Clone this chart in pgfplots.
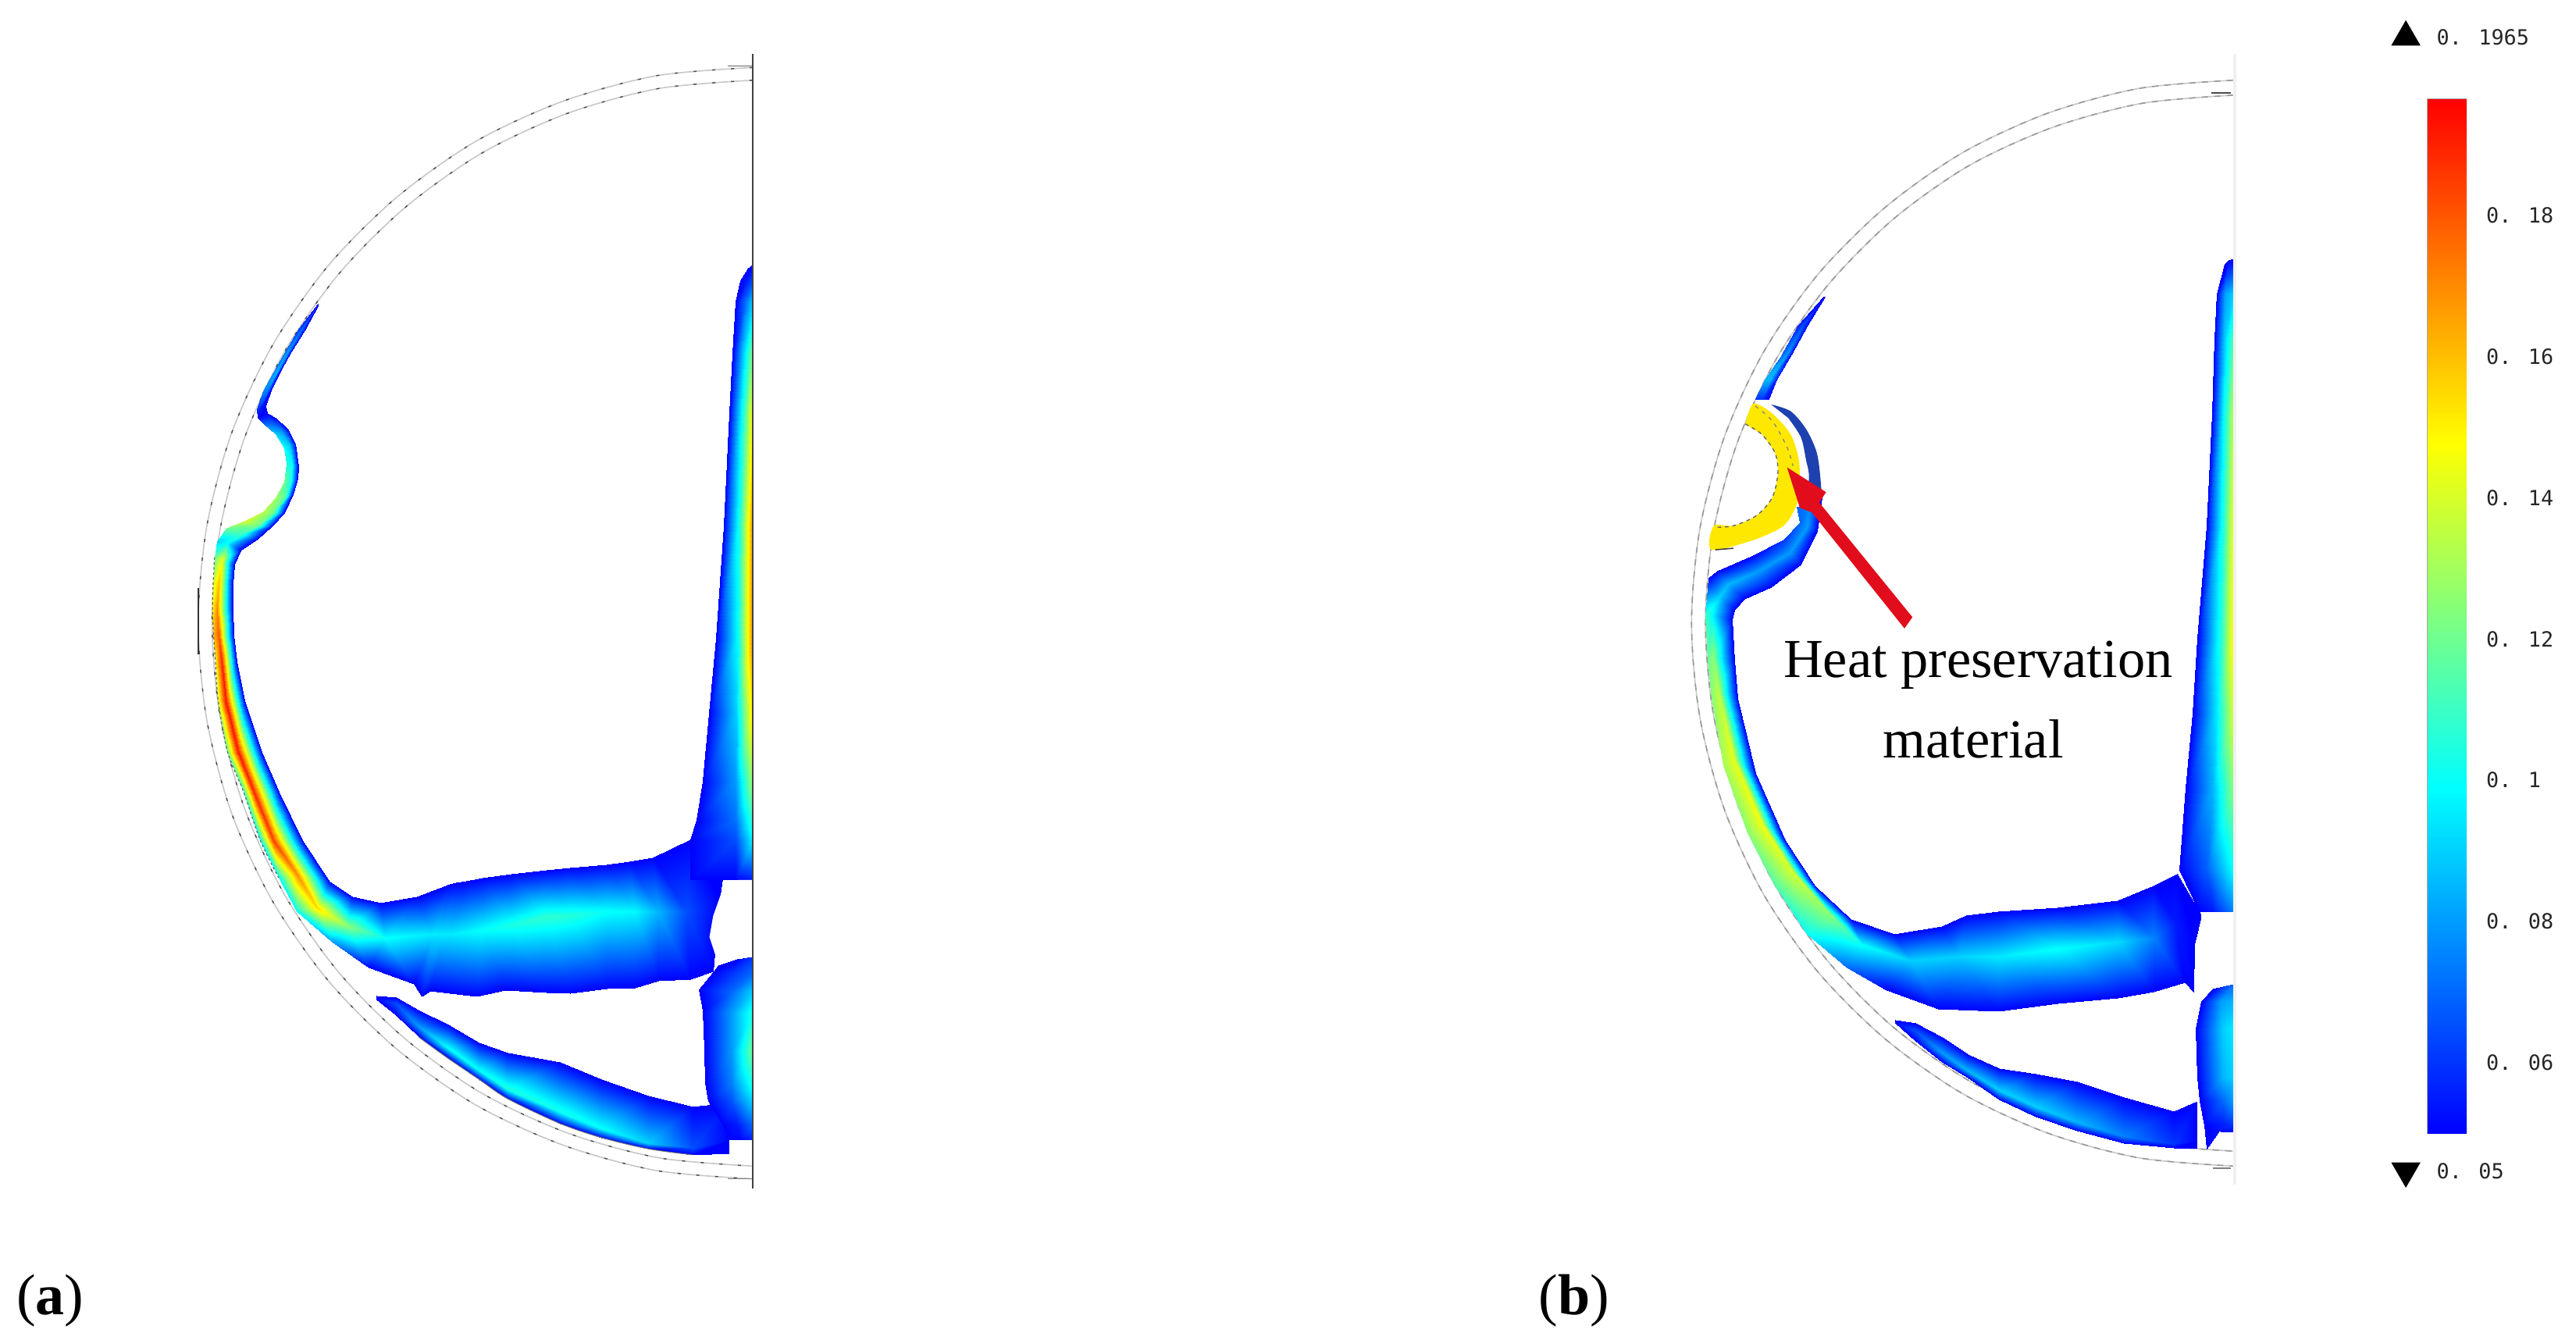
\documentclass[border=0pt]{standalone}
\usepackage{fontspec}
\setmainfont{Liberation Serif}
\newfontfamily\cbfont{DejaVu Sans Mono}
\usepackage{pgfplots}
\pgfplotsset{compat=1.18}
\definecolor{yel}{RGB}{255,232,0}
\definecolor{arrowred}{RGB}{225,12,28}
\definecolor{navy}{RGB}{30,65,175}
\pgfplotsset{
 panel/.style={scale only axis,hide axis,xmin=0,xmax=1560,ymin=0,ymax=1560,y dir=reverse,clip=false,
  anchor=north west,point meta min=0.05,point meta max=0.1965,
  colormap={heat}{rgb255=(0,0,255) rgb255=(0,255,255) rgb255=(255,255,0) rgb255=(255,0,0)}},
 heat/.style={surf,shader=interp,mesh/cols=3,point meta=explicit},
 ringa/.style={draw=black!22,line width=0.4pt,smooth,no markers},
 ringb/.style={draw=black!70,line width=0.35pt,smooth,dash pattern=on 1pt off 5pt,no markers},
 ringc/.style={draw=black!40,line width=0.4pt,smooth,dash pattern=on 2pt off 2pt,no markers},
}
\begin{document}
\begin{tikzpicture}
\path[use as bounding box] (0,0) rectangle (824.75pt,428.75pt);
% ---------------- panel (a)
\begin{axis}[panel,width=203.8pt,height=374pt,at={(50pt,416.25pt)}]
\addplot[ringa] coordinates {(1462,38)(1226,49)(997,83)(782,137)(588,212)(421,303)(285,409)(185,526)(124,651)(103,780)(124,909)(185,1034)(285,1151)(421,1257)(588,1348)(782,1423)(997,1477)(1226,1511)(1462,1522)};
\addplot[ringb] coordinates {(1462,38)(1226,49)(997,83)(782,137)(588,212)(421,303)(285,409)(185,526)(124,651)(103,780)(124,909)(185,1034)(285,1151)(421,1257)(588,1348)(782,1423)(997,1477)(1226,1511)(1462,1522)};
\addplot[ringa] coordinates {(1462,55)(1232,66)(1009,99)(799,152)(610,225)(447,314)(315,417)(217,532)(157,654)(137,780)(157,906)(217,1028)(315,1143)(447,1246)(610,1335)(799,1408)(1009,1461)(1232,1494)(1462,1505)};
\addplot[ringb] coordinates {(1462,55)(1232,66)(1009,99)(799,152)(610,225)(447,314)(315,417)(217,532)(157,654)(137,780)(157,906)(217,1028)(315,1143)(447,1246)(610,1335)(799,1408)(1009,1461)(1232,1494)(1462,1505)};
\addplot[black!80,line width=0.5pt,no markers] coordinates {(104,733)(104,822)};
\addplot[black!60,line width=0.45pt,no markers] coordinates {(1400,36)(1462,36)};
\addplot[black!50,line width=0.45pt,no markers] coordinates {(1400,1522)(1462,1522)};
% sliver
\addplot[heat] table[x=x,y=y,meta=c,row sep=\\] {
x y c\\
396 354 .05\\ 397 354 .05\\ 398 355 .05\\
351 386 .06\\ 357 387 .07\\ 364 389 .05\\
319 414 .07\\ 325 415 .08\\ 332 417 .05\\
287 445 .075\\ 296 443 .085\\ 306 441 .05\\
262 469 .075\\ 273 468 .075\\ 284 466 .05\\
246 494 .06\\ 257 492 .055\\ 268 490 .05\\
249 506 .05\\ 260 503 .05\\ 271 499 .05\\
};
% bump, wall, body
\addplot[heat] table[x=x,y=y,meta=c,row sep=\\] {
x y c\\
249 506 .05\\ 260 503 .05\\ 271 499 .05\\
265 514 .07\\ 279 510 .065\\ 293 506 .05\\
293 528 .09\\ 308 524 .08\\ 322 520 .05\\
313 546 .10\\ 327 543 .09\\ 341 540 .05\\
319 567 .105\\ 333 568 .10\\ 348 570 .05\\
313 591 .12\\ 330 590 .105\\ 346 587 .05\\
293 612 .13\\ 316 612 .115\\ 335 608 .05\\
262 631 .135\\ 288 633 .12\\ 313 633 .05\\
217 643 .14\\ 250 650 .12\\ 281 652 .05\\
172 653 .12\\ 210 661 .11\\ 249 667 .05\\
150 671 .09\\ 175 673 .10\\ 207 683 .05\\
143 692 .12\\ 160 695 .145\\ 191 702 .05\\
140 727 .14\\ 153 727 .16\\ 187 727 .05\\
137 761 .15\\ 150 761 .17\\ 187 761 .05\\
140 796 .16\\ 154 796 .18\\ 189 796 .05\\
145 831 .15\\ 160 831 .19\\ 198 831 .05\\
152 883 .14\\ 171 883 .193\\ 217 883 .05\\
175 952 .12\\ 201 952 .193\\ 258 952 .05\\
214 1005 .11\\ 239 1005 .19\\ 300 1005 .05\\
255 1070 .10\\ 287 1070 .185\\ 357 1070 .05\\
300 1120 .10\\ 345 1115 .17\\ 425 1125 .05\\
345 1165 .10\\ 395 1160 .155\\ 480 1145 .05\\
430 1205 .08\\ 470 1185 .125\\ 550 1153 .05\\
520 1240 .05\\ 560 1200 .10\\ 640 1145 .05\\
632 1262 .05\\ 680 1195 .095\\ 720 1128 .05\\
651 1278 .05\\ 700 1195 .095\\ 735 1126 .05\\
672 1271 .05\\ 725 1195 .095\\ 760 1124 .05\\
785 1278 .05\\ 800 1190 .10\\ 800 1120 .05\\
855 1270 .05\\ 870 1182 .104\\ 870 1115 .05\\
957 1273 .05\\ 957 1172 .108\\ 957 1109 .05\\
1014 1274 .05\\ 1014 1170 .106\\ 1014 1106 .05\\
1104 1268 .05\\ 1104 1165 .10\\ 1104 1102 .05\\
1174 1267 .05\\ 1174 1165 .098\\ 1160 1098 .05\\
1231 1258 .05\\ 1231 1165 .085\\ 1218 1093 .05\\
1308 1255 .05\\ 1300 1165 .065\\ 1308 1069 .05\\
1365 1245 .05\\ 1380 1150 .05\\ 1400 1069 .05\\
};
% vertical band
\addplot[heat] table[x=x,y=y,meta=c,row sep=\\] {
x y c\\
1450 306 .05\\ 1456 303 .05\\ 1462 300 .05\\
1432 322 .05\\ 1447 322 .055\\ 1462 322 .065\\
1420 350 .05\\ 1442 350 .07\\ 1462 350 .09\\
1412 420 .05\\ 1440 420 .09\\ 1462 420 .125\\
1405 500 .05\\ 1436 500 .10\\ 1462 500 .15\\
1392 650 .05\\ 1430 650 .105\\ 1462 650 .17\\
1372 800 .05\\ 1425 800 .10\\ 1462 800 .172\\
1355 900 .05\\ 1422 900 .09\\ 1462 900 .155\\
1340 991 .05\\ 1420 991 .08\\ 1462 991 .13\\
1324 1043 .05\\ 1420 1043 .072\\ 1462 1043 .11\\
1308 1069 .05\\ 1420 1069 .065\\ 1462 1069 .098\\
1308 1123 .05\\ 1420 1123 .05\\ 1462 1123 .055\\
};
% hole
\addplot[fill=white,draw=none,no markers] coordinates {(1462,1123)(1426,1123)(1384,1142)(1365,1171)(1356,1199)(1378,1236)(1423,1227)(1462,1225)} -- cycle;
% lower wedge
\addplot[heat] table[x=x,y=y,meta=c,row sep=\\] {
x y c\\
539 1277 .05\\ 539 1280 .05\\ 539 1283 .05\\
587 1279 .05\\ 587 1288 .065\\ 587 1303 .05\\
644 1297 .05\\ 644 1319 .08\\ 644 1333 .05\\
715 1316 .05\\ 715 1347 .10\\ 715 1361 .05\\
791 1340 .05\\ 791 1376 .10\\ 791 1389 .05\\
861 1353 .05\\ 861 1401 .105\\ 861 1415 .05\\
989 1366 .05\\ 989 1432 .103\\ 989 1448 .05\\
1091 1389 .05\\ 1091 1455 .10\\ 1091 1467 .05\\
1206 1411 .05\\ 1206 1474 .09\\ 1206 1482 .05\\
1314 1425 .05\\ 1314 1481 .065\\ 1314 1490 .05\\
1404 1420 .05\\ 1404 1470 .05\\ 1404 1488 .05\\
};
% lower block
\addplot[heat] table[x=x,y=y,meta=c,row sep=\\] {
x y c\\
1378 1237 .05\\ 1423 1228 .05\\ 1462 1225 .06\\
1365 1246 .05\\ 1415 1246 .06\\ 1462 1246 .07\\
1330 1269 .05\\ 1410 1272 .07\\ 1462 1272 .09\\
1340 1297 .05\\ 1410 1300 .08\\ 1462 1300 .105\\
1343 1349 .05\\ 1410 1350 .08\\ 1462 1350 .12\\
1346 1394 .05\\ 1410 1394 .075\\ 1462 1394 .105\\
1353 1418 .05\\ 1410 1420 .065\\ 1462 1420 .09\\
1390 1450 .05\\ 1425 1450 .055\\ 1462 1450 .07\\
1404 1470 .05\\ 1430 1470 .05\\ 1462 1470 .055\\
};
\addplot[black!75,line width=0.7pt,no markers] coordinates {(1462,20)(1462,1535)};
\addplot[draw=black!60,line width=0.3pt,dash pattern=on .8pt off .8pt,no markers,smooth] coordinates {(143,692)(138,761)(145,831)(152,883)(175,952)(214,1005)(255,1070)(300,1120)};
\addplot[draw=black!55,line width=0.25pt,no markers,smooth] coordinates {(644,1333)(715,1361)(791,1389)(861,1415)(989,1448)(1091,1467)(1206,1482)(1314,1490)};
\end{axis}
% ---------------- panel (b)
\begin{axis}[panel,width=198.8pt,height=374pt,at={(525pt,416.25pt)}]
\addplot[ringa] coordinates {(1490,55)(1254,66)(1025,99)(810,152)(616,225)(448,314)(312,417)(212,532)(151,654)(130,780)(151,906)(212,1028)(312,1143)(448,1246)(616,1335)(810,1408)(1025,1461)(1254,1494)(1490,1505)};
\addplot[ringc] coordinates {(1490,55)(1254,66)(1025,99)(810,152)(616,225)(448,314)(312,417)(212,532)(151,654)(130,780)(151,906)(212,1028)(312,1143)(448,1246)(616,1335)(810,1408)(1025,1461)(1254,1494)(1490,1505)};
\addplot[ringa] coordinates {(1490,75)(1260,86)(1037,118)(827,169)(638,240)(475,327)(343,427)(245,539)(185,658)(165,780)(185,902)(245,1021)(343,1133)(475,1233)(638,1320)(827,1391)(1037,1442)(1260,1474)(1490,1485)};
\addplot[ringc] coordinates {(1490,75)(1260,86)(1037,118)(827,169)(638,240)(475,327)(343,427)(245,539)(185,658)(165,780)(185,902)(245,1021)(343,1133)(475,1233)(638,1320)(827,1391)(1037,1442)(1260,1474)(1490,1485)};
\addplot[black!6,line width=1pt,no markers] coordinates {(1494,20)(1494,1530)};
\addplot[black!70,line width=0.5pt,no markers] coordinates {(1435,72)(1485,72)};
\addplot[black!50,line width=0.5pt,no markers] coordinates {(1440,1508)(1485,1508)};
% yellow crescent
\addplot[fill=yel,draw=none,no markers,smooth] coordinates {(265,514)(285,487)(333,500)(379,528)(399,560)(402,590)(396,619)(373,643)(347,655)(280,670)(180,682)(186,650)(235,650)(294,636)(333,612)(347,580)(340,553)(307,528)} -- cycle;
\addplot[black!60,line width=0.35pt,dash pattern=on 1.2pt off 1.2pt,no markers,smooth] coordinates {(265,514)(307,528)(340,553)(347,580)(333,612)(294,636)(235,650)(186,652)};
\addplot[black!50,line width=0.3pt,dash pattern=on 1.2pt off 1.6pt,no markers,smooth] coordinates {(290,490)(333,510)(370,545)(385,570)};
\addplot[black!75,line width=0.4pt,no markers] coordinates {(190,682)(235,680)};
% sliver
\addplot[heat] table[x=x,y=y,meta=c,row sep=\\] {
x y c\\
461 344 .05\\ 463 344 .05\\ 465 344 .05\\
399 382 .055\\ 410 382 .065\\ 422 382 .05\\
353 424 .07\\ 366 423 .08\\ 381 421 .05\\
314 455 .085\\ 328 455 .085\\ 343 455 .055\\
291 481 .06\\ 307 481 .06\\ 324 481 .05\\
};
% navy crescent
\addplot[fill=navy,draw=none,no markers,smooth] coordinates {(330,488)(379,497)(418,521)(445,553)(455,594)(455,625)(420,632)(425,584)(418,563)(405,532)(373,506)} -- cycle;
% strip below arrow
\addplot[heat] table[x=x,y=y,meta=c,row sep=\\] {
x y c\\
395 625 .07\\ 425 622 .075\\ 457 612 .05\\
402 645 .07\\ 420 652 .08\\ 445 657 .05\\
360 668 .06\\ 378 685 .08\\ 405 702 .05\\
280 690 .05\\ 298 710 .08\\ 330 732 .05\\
195 710 .05\\ 222 728 .085\\ 262 748 .05\\
172 720 .05\\ 200 745 .09\\ 238 762 .05\\
165 770 .11\\ 180 770 .10\\ 232 775 .05\\
170 830 .12\\ 185 825 .125\\ 238 830 .05\\
180 880 .125\\ 197 870 .135\\ 245 880 .05\\
210 970 .13\\ 235 960 .143\\ 290 980 .05\\
270 1060 .125\\ 305 1045 .145\\ 365 1070 .05\\
340 1130 .115\\ 380 1110 .14\\ 440 1130 .05\\
420 1195 .10\\ 480 1170 .125\\ 530 1175 .05\\
520 1240 .07\\ 560 1210 .10\\ 640 1195 .05\\
620 1270 .05\\ 680 1230 .09\\ 760 1185 .05\\
750 1295 .05\\ 800 1225 .09\\ 820 1170 .05\\
900 1298 .05\\ 900 1225 .095\\ 900 1165 .05\\
1050 1288 .05\\ 1050 1215 .10\\ 1050 1160 .05\\
1200 1280 .05\\ 1200 1205 .092\\ 1200 1150 .05\\
1290 1272 .05\\ 1290 1200 .075\\ 1290 1130 .05\\
1370 1260 .05\\ 1345 1180 .055\\ 1350 1115 .05\\
1390 1272 .05\\ 1393 1210 .05\\ 1410 1170 .05\\
};
% vertical band
\addplot[heat] table[x=x,y=y,meta=c,row sep=\\] {
x y c\\
1470 300 .05\\ 1480 295 .05\\ 1490 293 .05\\
1450 340 .05\\ 1470 340 .08\\ 1490 340 .09\\
1443 400 .05\\ 1470 400 .09\\ 1490 400 .115\\
1438 500 .05\\ 1468 500 .10\\ 1490 500 .135\\
1425 650 .05\\ 1465 650 .105\\ 1490 650 .145\\
1400 800 .05\\ 1460 800 .105\\ 1490 800 .15\\
1388 900 .05\\ 1450 900 .095\\ 1490 900 .14\\
1372 1000 .05\\ 1440 1000 .085\\ 1490 1000 .125\\
1355 1110 .05\\ 1425 1110 .068\\ 1490 1110 .10\\
1405 1165 .05\\ 1440 1165 .055\\ 1490 1165 .075\\
};
% lower wedge
\addplot[heat] table[x=x,y=y,meta=c,row sep=\\] {
x y c\\
641 1310 .05\\ 641 1312 .05\\ 641 1314 .05\\
693 1314 .05\\ 693 1324 .065\\ 693 1338 .05\\
759 1333 .05\\ 759 1354 .08\\ 759 1366 .05\\
824 1356 .05\\ 824 1378 .085\\ 824 1387 .05\\
902 1374 .05\\ 902 1404 .09\\ 902 1416 .05\\
994 1382 .05\\ 994 1425 .09\\ 994 1439 .05\\
1099 1392 .05\\ 1099 1446 .085\\ 1099 1458 .05\\
1216 1413 .05\\ 1216 1465 .075\\ 1216 1474 .05\\
1341 1432 .05\\ 1341 1475 .06\\ 1341 1481 .05\\
1400 1418 .05\\ 1400 1470 .05\\ 1400 1482 .05\\
};
\addplot[heat] table[x=x,y=y,meta=c,row sep=\\] {
x y c\\
1440 1268 .05\\ 1465 1265 .06\\ 1490 1262 .07\\
1410 1285 .05\\ 1460 1285 .08\\ 1490 1285 .085\\
1396 1321 .05\\ 1465 1321 .09\\ 1490 1321 .095\\
1400 1387 .05\\ 1465 1387 .085\\ 1490 1387 .09\\
1406 1418 .05\\ 1465 1418 .07\\ 1490 1418 .08\\
1419 1450 .05\\ 1465 1450 .055\\ 1490 1450 .06\\
1424 1482 .05\\ 1426 1458 .05\\ 1490 1460 .05\\
};
% arrow
\addplot[fill=arrowred,draw=none,no markers] coordinates {(370,572)(468,605)(451,619)(685,772)(665,787)(432,632)(402,626)} -- cycle;
\node[font=\fontsize{17.6pt}{20pt}\selectfont,anchor=base] at (axis cs:850,852) {Heat preservation};
\node[font=\fontsize{17.6pt}{20pt}\selectfont,anchor=base] at (axis cs:838,960) {material};
\end{axis}
% ---------------- colour bar
\begin{axis}[scale only axis,width=12.25pt,height=331pt,at={(777.25pt,66pt)},anchor=south west,
 xmin=0,xmax=1,ymin=0.05,ymax=0.1965,clip=false,
 point meta min=0.05,point meta max=0.1965,
 colormap={heat}{rgb255=(0,0,255) rgb255=(0,255,255) rgb255=(255,255,0) rgb255=(255,0,0)},
 xtick=\empty,ytick={0.06,0.08,0.1,0.12,0.14,0.16,0.18},
 yticklabels={0. 06,0. 08,0. 1,0. 12,0. 14,0. 16,0. 18},
 ytick pos=both,yticklabel pos=right,tick align=inside,major tick length=2.5pt,
 tick style={black!80,line width=0.3pt},
 axis line style={black!35,line width=0.6pt},
 yticklabel style={font=\cbfont\fontsize{6.7pt}{8pt}\selectfont,anchor=west,xshift=3pt,text=black!85}]
\addplot[surf,shader=interp,mesh/cols=2,point meta=y] table[row sep=\\] {
x y\\
0 0.05\\ 1 0.05\\
0 0.1485\\ 1 0.1485\\
0 0.1965\\ 1 0.1965\\
};
\addplot[only marks,mark=triangle*,mark size=5pt,black] coordinates {(-0.57,0.2053)};
\addplot[only marks,mark=triangle*,mark size=5pt,black,mark options={rotate=180}] coordinates {(-0.57,0.04464)};
\node[font=\cbfont\fontsize{6.7pt}{8pt}\selectfont,anchor=west,text=black!85] at (axis cs:-0.05,0.2053) {0. 1965};
\node[font=\cbfont\fontsize{6.7pt}{8pt}\selectfont,anchor=west,text=black!85] at (axis cs:-0.05,0.04464) {0. 05};
\end{axis}
\node[anchor=base west,font=\fontsize{18.5pt}{20pt}\selectfont] at (1.8pt,8pt) {(\textbf{a})};
\node[anchor=base west,font=\fontsize{18.5pt}{20pt}\selectfont] at (489.2pt,8pt) {(\textbf{b})};
\end{tikzpicture}
\end{document}
